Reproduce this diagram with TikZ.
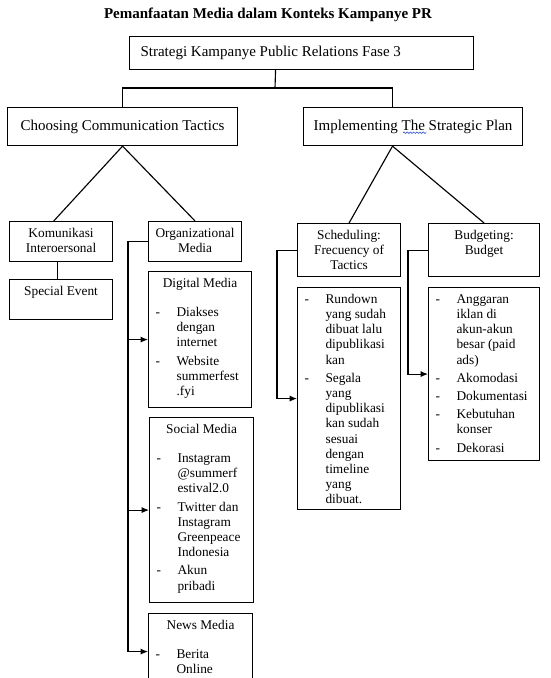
\documentclass[tikz,border=0pt]{standalone}
\usepackage{fontspec}
\setmainfont{Liberation Serif}
\usepackage{xcolor}
\usepackage{tikz}
\usetikzlibrary{
  arrows.meta,
  positioning,
  decorations.pathmorphing,
}
\definecolor{ink}{HTML}{000000}
\definecolor{spellblue}{HTML}{3B5BD6}
\newlength{\pixel}
\setlength{\pixel}{0.75pt}
% box bodies: width, height (in pixels), text
\newcommand{\headcard}[3]{\begin{minipage}[c][#2\pixel][c]{#1\pixel}\centering #3\end{minipage}}
\newcommand{\topcard}[3]{\begin{minipage}[c][#2\pixel][t]{#1\pixel}\centering\vspace*{5\pixel}\strut #3\end{minipage}}
\newcommand{\listcard}[3]{\begin{minipage}[c][#2\pixel][t]{#1\pixel}\vspace*{5\pixel}\dashlist{#3}\end{minipage}}
\newcommand{\dashlist}[1]{\par\raggedright\begin{tabular}[t]{@{\hspace*{7\pixel}}p{21\pixel}@{}l@{}}#1\end{tabular}}
\tikzset{
  >={Latex[length=5.5pt,width=4.6pt]},
  box/.style={draw=ink, line width=0.85pt, inner sep=0pt, anchor=north west},
  tier/.style={box, font=\fontsize{11.25}{13}\selectfont},
  card/.style={box, font=\fontsize{10}{11.4}\selectfont},
  link/.style={draw=ink, line width=0.85pt},
  feed/.style={link, ->},
  squiggle/.style={draw=spellblue, line width=0.5pt, decorate,
    decoration={snake, amplitude=0.55pt, segment length=2.4pt}},
}

\begin{document}
\begin{tikzpicture}[x=0.75pt,y=-0.75pt]
  \useasboundingbox (0,0) rectangle (550,678);
  \clip (0,0) rectangle (550,678);
  \node[font=\bfseries\fontsize{11.25}{13}\selectfont] (heading) at (268,15)
    {Pemanfaatan Media dalam Konteks Kampanye PR};

  % Phase 3 and its two branches
  \node[tier] (strategy) at (129,36)
    {\begin{minipage}[c][33\pixel][c]{344\pixel}\hspace*{11\pixel}Strategi Kampanye Public Relations Fase 3\end{minipage}};
  \node[tier] (tactics) at (7,107) {\headcard{230}{38}{Choosing Communication Tactics}};
  \node[tier] (plan) at (303,107) {\headcard{219}{38}{Implementing The Strategic Plan}};
  \draw[squiggle] ([xshift=-7.5pt,yshift=-4.6pt]plan.center) -- ([xshift=10pt,yshift=-4.6pt]plan.center);

  \coordinate (split) at (275,88);
  \draw[link] ([xshift=-19.5pt]strategy.south) -- (split);
  \draw[link] (tactics.north) |- (split) -| ([xshift=-15.4pt]plan.north);

  % Left branch
  \node[card] (kom) at (9,221) {\topcard{103}{40}{Komunikasi\\Interoersonal}};
  \node[card] (special) at (9,279) {\topcard{103}{40}{Special Event}};
  \node[card] (org) at (148,221) {\topcard{93}{40}{Organizational\\Media}};
  \draw[link] (tactics.south) -- ([xshift=-5.5pt]kom.north);
  \draw[link] (tactics.south) -- (org.north);
  \draw[link] ([xshift=-2.6pt]kom.south) -- ([xshift=-2.6pt]special.north);

  \node[card] (digital) at (148,271) {\topcard{103}{136}{Digital Media\par\vspace{14\pixel}%
    \dashlist{- & Diakses\\ & dengan\\ & internet\\[3\pixel]
      - & Website\\ & summerfest\\ & .fyi}}};
  \node[card] (social) at (149,417) {\topcard{104}{185}{Social Media\par\vspace{14\pixel}%
    \dashlist{- & Instagram\\ & @summerf\\ & estival2.0\\[3\pixel]
      - & Twitter dan\\ & Instagram\\ & Greenpeace\\ & Indonesia\\[3\pixel]
      - & Akun\\ & pribadi}}};
  \node[card] (news) at (148,613) {\topcard{104}{76}{News Media\par\vspace{14\pixel}%
    \dashlist{- & Berita\\ & Online}}};

  \draw[feed] (org.west) -- ++(-20,0) coordinate (orgspine) |- (news.west);
  \draw[feed] (orgspine |- digital.west) -- (digital.west);
  \draw[feed] (orgspine |- social.west) -- (social.west);

  % Right branch
  \node[card] (sched) at (297,223) {\topcard{103}{53}{Scheduling:\\Frecuency of\\Tactics}};
  \node[card] (budget) at (428,223) {\topcard{111}{53}{Budgeting:\\Budget}};
  \draw[link] ([xshift=-15.4pt]plan.south) -- (sched.north);
  \draw[link] ([xshift=-15.4pt]plan.south) -- (budget.north);

  \node[card] (schedlist) at (297,287) {\listcard{103}{222}{%
    - & Rundown\\ & yang sudah\\ & dibuat lalu\\ & dipublikasi\\ & kan\\[3\pixel]
    - & Segala\\ & yang\\ & dipublikasi\\ & kan sudah\\ & sesuai\\ & dengan\\
      & timeline\\ & yang\\ & dibuat.}};
  \node[card] (budgetlist) at (428,287) {\listcard{111}{173}{%
    - & Anggaran\\ & iklan di\\ & akun-akun\\ & besar (paid\\ & ads)\\[3\pixel]
    - & Akomodasi\\[3\pixel]
    - & Dokumentasi\\[3\pixel]
    - & Kebutuhan\\ & konser\\[3\pixel]
    - & Dekorasi}};

  \draw[feed] (sched.west) -- ++(-20,0) |- (schedlist.west);
  \draw[feed] (budget.west) -- ++(-20,0) |- (budgetlist.west);
\end{tikzpicture}
\end{document}
